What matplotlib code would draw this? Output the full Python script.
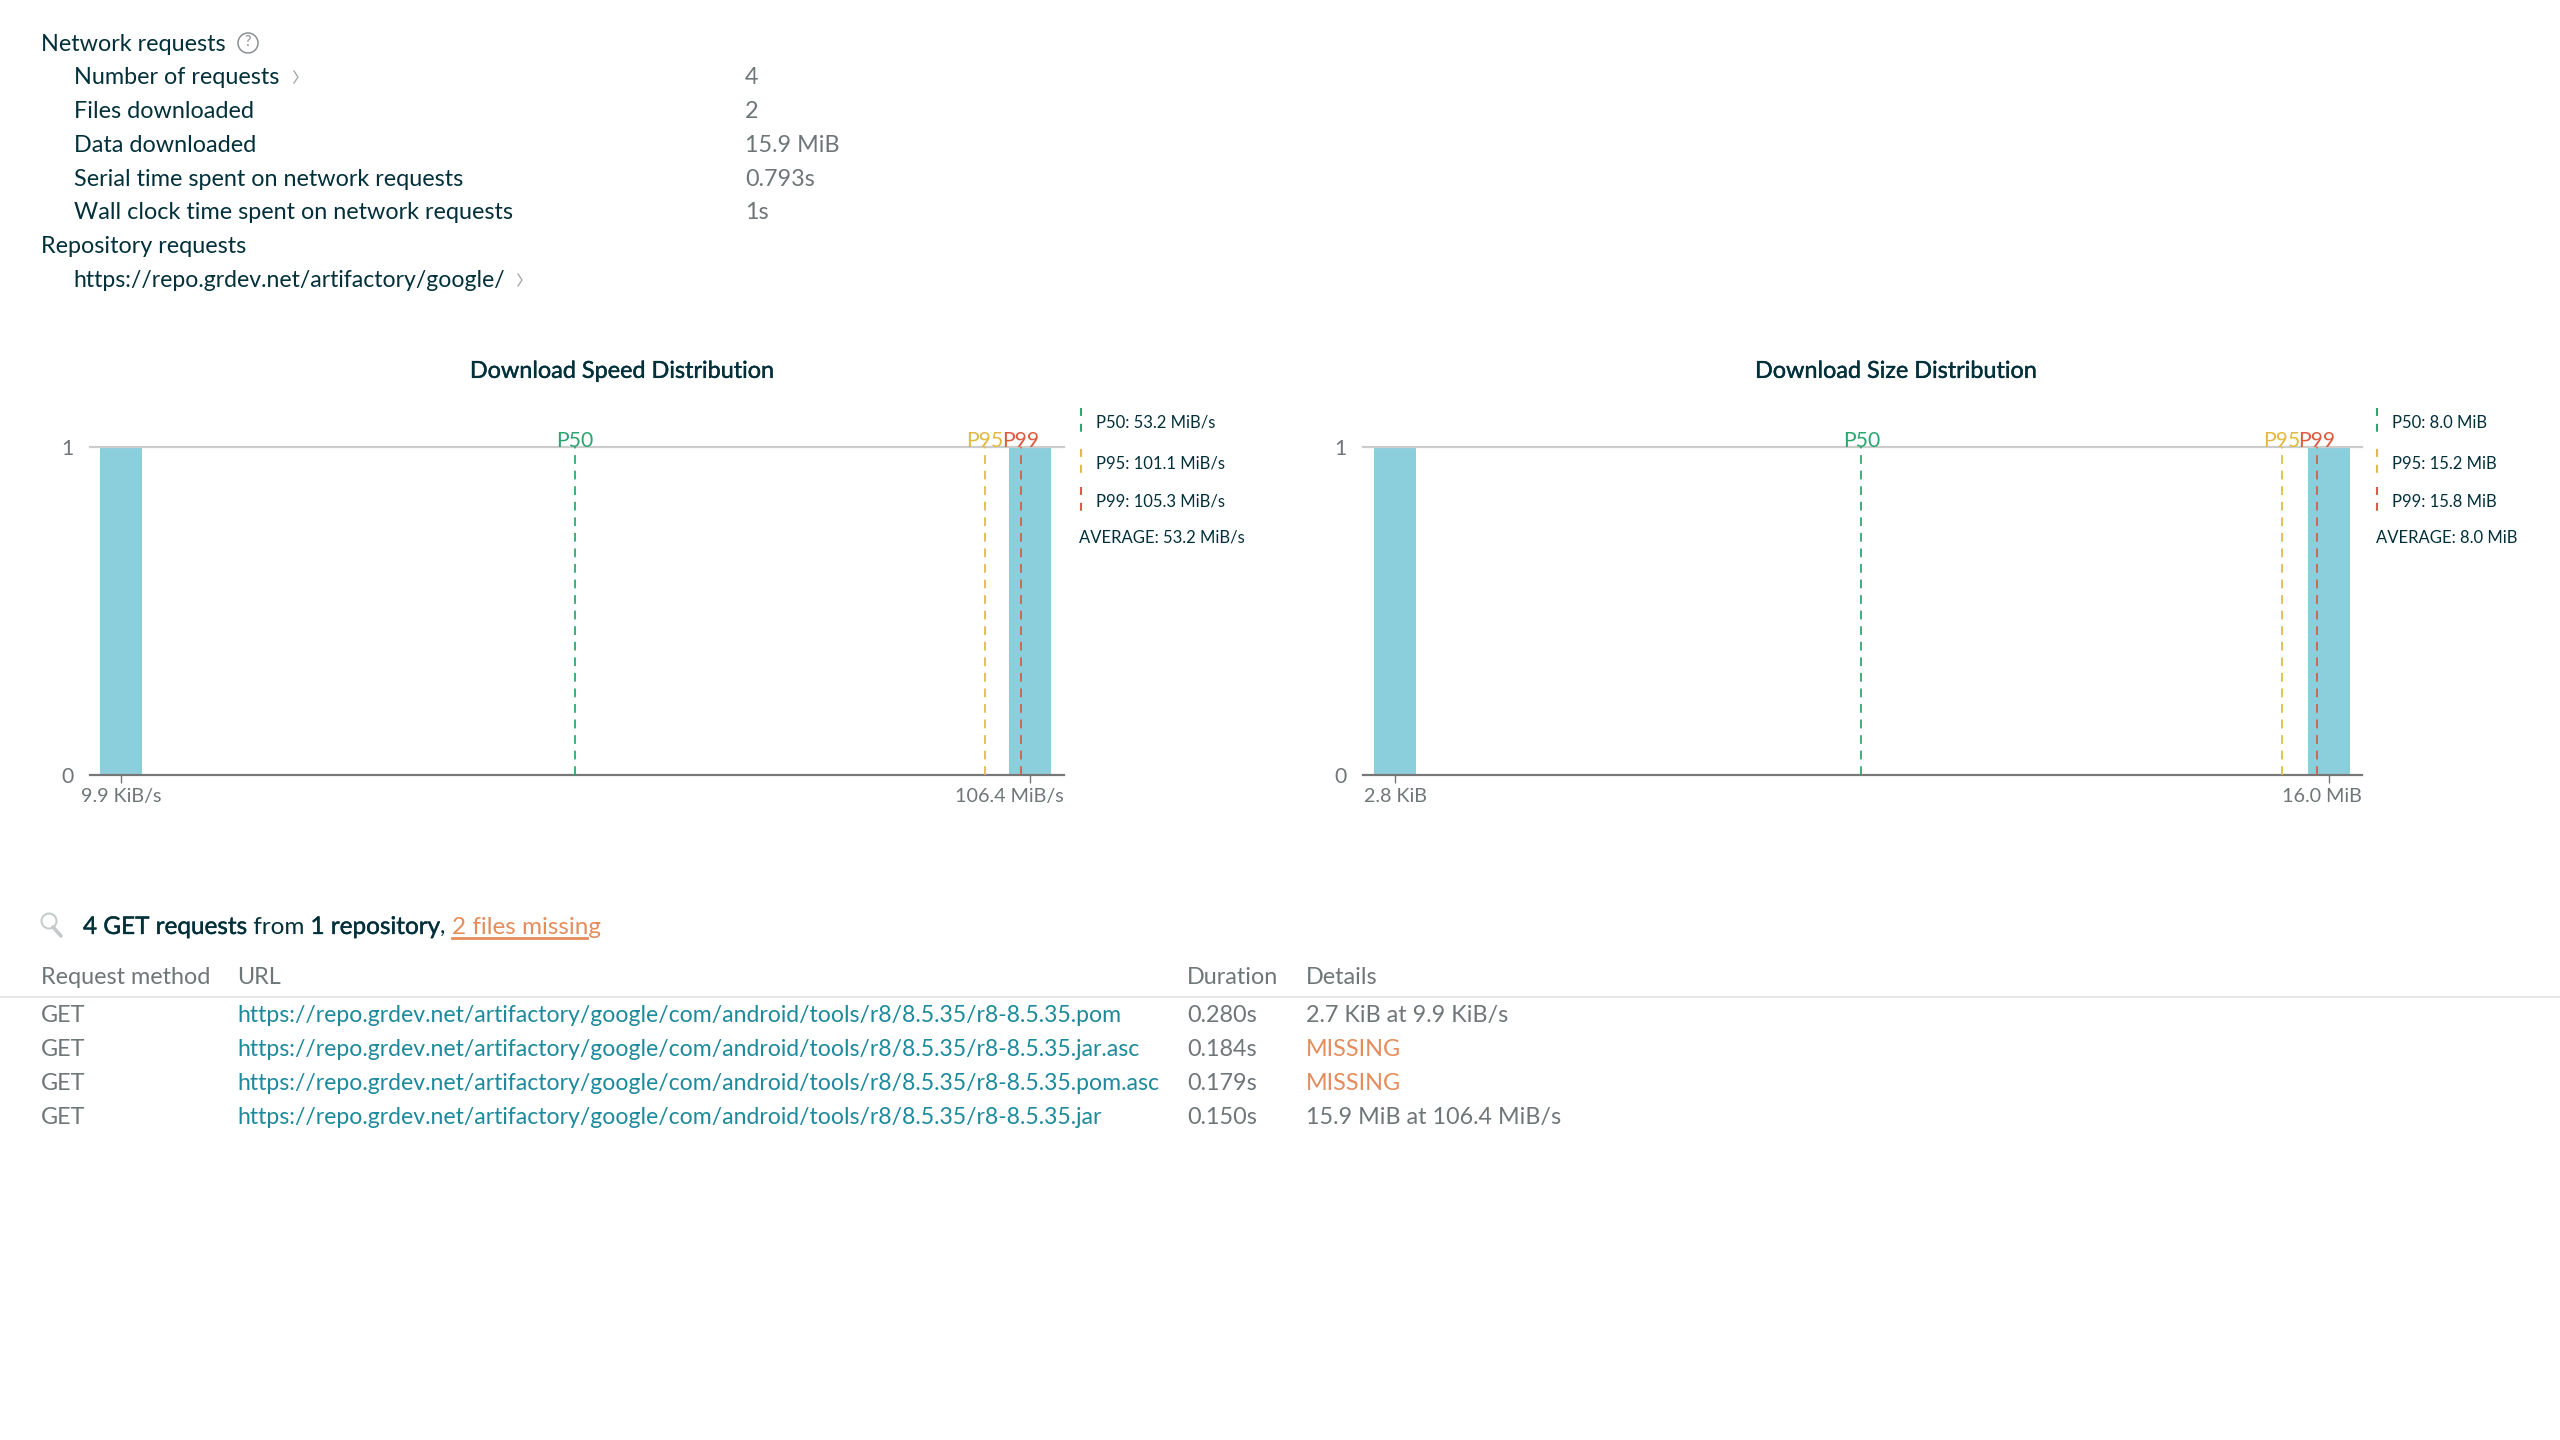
import matplotlib
matplotlib.use("Agg")
import matplotlib.pyplot as plt
import matplotlib.patheffects as pe
from matplotlib.patches import Circle

plt.rcParams["font.family"] = ["Lato", "DejaVu Sans"]

# ---- summary block ----
network_rows = ["Number of requests", "Files downloaded", "Data downloaded",
                "Serial time spent on network requests", "Wall clock time spent on network requests"]
network_values = ["4", "2", "15.9 MiB", "0.793s", "1s"]
repository_url = "https://repo.grdev.net/artifactory/google/"

# ---- distributions ----
speed_title = "Download Speed Distribution"
speed_bins = [0.00967, 106.4]          # MiB/s
speed_counts = [1, 1]
speed_ticks = ["9.9 KiB/s", "106.4 MiB/s"]
speed_percentiles = [53.2, 101.1, 105.3]
speed_legend = ["P50: 53.2 MiB/s", "P95: 101.1 MiB/s", "P99: 105.3 MiB/s", "AVERAGE: 53.2 MiB/s"]

size_title = "Download Size Distribution"
size_bins = [0.00273, 16.0]            # MiB
size_counts = [1, 1]
size_ticks = ["2.8 KiB", "16.0 MiB"]
size_percentiles = [8.0, 15.2, 15.8]
size_legend = ["P50: 8.0 MiB", "P95: 15.2 MiB", "P99: 15.8 MiB", "AVERAGE: 8.0 MiB"]

percentile_names = ["P50", "P95", "P99"]

# ---- request table ----
table_headers = ["Request method", "URL", "Duration", "Details"]
methods = ["GET", "GET", "GET", "GET"]
urls = ["https://repo.grdev.net/artifactory/google/com/android/tools/r8/8.5.35/r8-8.5.35.pom",
        "https://repo.grdev.net/artifactory/google/com/android/tools/r8/8.5.35/r8-8.5.35.jar.asc",
        "https://repo.grdev.net/artifactory/google/com/android/tools/r8/8.5.35/r8-8.5.35.pom.asc",
        "https://repo.grdev.net/artifactory/google/com/android/tools/r8/8.5.35/r8-8.5.35.jar"]
durations = ["0.280s", "0.184s", "0.179s", "0.150s"]
details = ["2.7 KiB at 9.9 KiB/s", "MISSING", "MISSING", "15.9 MiB at 106.4 MiB/s"]

DARK = "#02303a"
GREY = "#6f7678"
LINK = "#1c8a9c"
ORANGE = "#e58c5c"
BAR = "#8bcfdd"
PCT_COLORS = ["#2ba66f", "#e3b93f", "#de5a40"]

W, H = 2560, 1440
fig = plt.figure(figsize=(W / 100, H / 100), dpi=100, facecolor="white")

# Full-figure overlay in pixel units for the page text
page = fig.add_axes([0, 0, 1, 1])
page.set_xlim(0, W)
page.set_ylim(H, 0)
page.axis("off")
page.set_zorder(5)
page.patch.set_alpha(0)

FS = 16.85
URL_FS = 16.6
SMALL = 12.0
TICK = 14.2
HEAVY = [pe.withStroke(linewidth=0.3, foreground=DARK)]


def label(x, y, s, color=DARK, size=FS, **kw):
    kw.setdefault("va", "center")
    # Vertical centre of the x-height sits slightly under the bounding-box centre
    return page.text(x, y + size * 0.14, s, color=color, fontsize=size, **kw)


def chevron(x, y):
    page.plot([x - 2, x + 2, x - 2], [y - 6, y, y + 6], color="#a5abad", lw=1.0)


# Summary block
label(41, 42, "Network requests")
page.add_patch(Circle((248, 43), 10, fill=False, ec="#8a9092", lw=1.1))
label(248, 41, "?", color="#8a9092", size=10.5, ha="center")
row_y = [75, 109, 143, 177, 210]
for y, name, value in zip(row_y, network_rows, network_values):
    label(73.5, y, name)
    label(745, y, value, color=GREY)
chevron(296, 77)
label(41, 244, "Repository requests")
label(73.5, 278, repository_url, size=URL_FS)
chevron(520, 280)


def histogram(left, right, x_at_first, x_at_last, bins, counts, ticks, pcts, title,
              title_x, legend, dash_x, legend_x, avg_x):
    top, bottom = 447, 775
    ax = fig.add_axes([left / W, 1 - bottom / H, (right - left) / W, (bottom - top) / H])
    per_px = (bins[1] - bins[0]) / (x_at_last - x_at_first)
    ax.set_xlim(bins[0] - (x_at_first - left) * per_px, bins[1] + (right - x_at_last) * per_px)
    ax.set_ylim(0, 1)
    ax.bar(bins, counts, width=42 * per_px, color=BAR, linewidth=0, zorder=2)
    for v, c in zip(pcts, PCT_COLORS):
        ax.axvline(v, color=c, lw=1.4, ls=(0, (4.5, 3.5)), alpha=0.9, zorder=3)
    for name, v, c in zip(percentile_names, pcts, PCT_COLORS):
        ax.annotate(name, (v, 1), xytext=(0, 4), textcoords="offset points", ha="center",
                    va="center", color=c, fontsize=15.2, annotation_clip=False, zorder=6)
    for side in ("left", "right"):
        ax.spines[side].set_visible(False)
    ax.spines["top"].set_color("#cccccc")
    ax.spines["top"].set_linewidth(1.6)
    ax.spines["bottom"].set_color("#777777")
    ax.spines["bottom"].set_linewidth(1.6)
    ax.set_xticks(bins)
    ax.set_xticklabels([])
    ax.tick_params(axis="x", length=6, width=1, color="#777777")
    ax.set_yticks([0, 1])
    ax.set_yticklabels(["0", "1"], fontsize=15.2, color=GREY)
    ax.tick_params(axis="y", length=0, pad=12)
    label(x_at_first + 0.5, 795, ticks[0], color=GREY, size=TICK, ha="center")
    label(right, 795, ticks[1], color=GREY, size=TICK, ha="right")

    label(title_x, 369, title, ha="center", path_effects=HEAVY)
    for y, s, c in zip([421, 462, 500], legend[:3], PCT_COLORS):
        page.plot([dash_x, dash_x], [y - 13, y + 13], color=c, lw=1.5, ls=(0, (3.8, 3.8)))
        label(legend_x, y, s, size=SMALL)
    label(avg_x, 536, legend[3], size=SMALL)


histogram(90, 1064, 120.5, 1030, speed_bins, speed_counts, speed_ticks, speed_percentiles,
          speed_title, 622, speed_legend, 1081, 1096, 1079)
histogram(1363, 2362, 1394.5, 2328.5, size_bins, size_counts, size_ticks, size_percentiles,
          size_title, 1896, size_legend, 2377, 2392, 2376)

# Magnifier icon
page.add_patch(Circle((49, 921), 7.5, fill=False, ec="#c4c9ca", lw=1.4))
page.plot([53, 61], [927, 936], color="#c4c9ca", lw=2.6, solid_capstyle="round")

# Heading assembled from runs of differing weight and colour
renderer = fig.canvas.get_renderer()
cursor = 83
runs = [("4 GET requests", DARK, True), (" from ", DARK, False),
        ("1 repository", DARK, True), (", ", DARK, False),
        ("2 files missing", ORANGE, False)]
for s, c, heavy in runs:
    t = label(cursor, 925, s.replace(" ", "\u00a0"), color=c, size=17.5)
    if heavy:
        t.set_path_effects(HEAVY)
    box = t.get_window_extent(renderer)
    if s.startswith("2 files"):
        # Underline breaks off before the descender of the final g
        page.plot([cursor, cursor + box.width - 14], [938, 938], color=ORANGE, lw=2.0)
    cursor += box.width

# Request table
for x, s in zip([41, 237, 1187, 1306], table_headers):
    label(x, 975.5, s, color=GREY)
page.plot([0, W], [997, 997], color="#e6e8e9", lw=1.6)
table_y = [1013.5, 1047.5, 1081, 1115]
for y, m, u, d, det in zip(table_y, methods, urls, durations, details):
    label(41, y, m, color=GREY)
    label(237, y, u, color=LINK, size=URL_FS)
    label(1187, y, d, color=GREY)
    label(1306, y, det, color=ORANGE if det == "MISSING" else GREY)

fig.savefig("out.png", dpi=100, facecolor="white")
